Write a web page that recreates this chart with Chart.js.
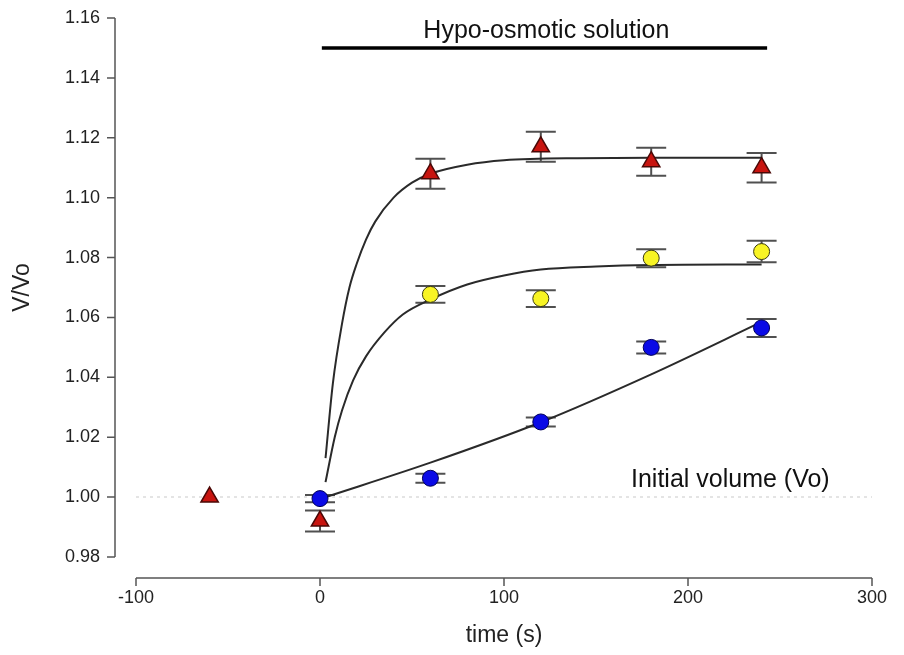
<!DOCTYPE html>
<html>
<head>
<meta charset="utf-8">
<title>V/Vo vs time</title>
<script src="https://cdn.jsdelivr.net/npm/chart.js@4.4.1/dist/chart.umd.min.js"></script>
<style>
  body { margin: 0; background: #fff; }
  .chart-box { width: 904px; height: 655px; }
</style>
</head>
<body>
<div class="chart-box"><canvas id="volChart"></canvas></div>
<script>
// Axis ticks
const xTicks = [-100, 0, 100, 200, 300];
const yTicks = [0.98, 1.00, 1.02, 1.04, 1.06, 1.08, 1.10, 1.12, 1.14, 1.16];

// Red triangles (measured), with SEM
const redTimes = [-60, 0, 60, 120, 180, 240];
const redVals = [1.000, 0.992, 1.108, 1.117, 1.112, 1.110];
const redErr = [0, 0.0035, 0.005, 0.005, 0.0047, 0.0049];

// Yellow circles
const yellowTimes = [60, 120, 180, 240];
const yellowVals = [1.0677, 1.0663, 1.0798, 1.082];
const yellowErr = [0.0028, 0.0028, 0.003, 0.0036];

// Blue circles
const blueTimes = [0, 60, 120, 180, 240];
const blueVals = [0.9995, 1.0063, 1.0251, 1.050, 1.0565];
const blueErr = [0.0012, 0.0015, 0.0015, 0.002, 0.003];

// Fitted curves
const redFitT = [3, 7, 12, 16, 20, 25, 30, 40, 50, 60, 80, 100, 140, 180, 240];
const redFitV = [1.013, 1.038, 1.058, 1.070, 1.078, 1.086, 1.092, 1.100, 1.105, 1.108, 1.111, 1.1125, 1.1132, 1.1133, 1.1133];
const yellowFitT = [3, 8, 12, 18, 25, 35, 45, 60, 80, 100, 120, 150, 180, 240];
const yellowFitV = [1.005, 1.020, 1.029, 1.039, 1.047, 1.055, 1.061, 1.066, 1.071, 1.074, 1.076, 1.077, 1.0775, 1.0777];
const blueFitT = [2, 60, 120, 180, 240];
const blueFitV = [0.9998, 1.0115, 1.025, 1.041, 1.0585];

// Hypo-osmotic period bar and baseline
const hypoT = [1, 243];
const hypoLevel = 1.15;
const baseT = [-100, 300];
const baseLevel = 1.00;

const toXY = (ts, vs) => ts.map((t, i) => ({ x: t, y: vs[i] }));

Chart.defaults.font.family = '"Liberation Sans", Arial, sans-serif';
Chart.defaults.color = '#222';

// Error bars drawn underneath the markers
const errorBars = {
    id: 'errorBars',
    beforeDatasetsDraw(chart) {
        const { ctx, scales: { x, y } } = chart;
        ctx.save();
        ctx.strokeStyle = '#505050';
        ctx.lineWidth = 2;
        chart.data.datasets.forEach(ds => {
            if (!ds.errors) return;
            ds.data.forEach((p, i) => {
                const e = ds.errors[i];
                if (!e) return;
                const px = x.getPixelForValue(p.x);
                const top = y.getPixelForValue(p.y + e);
                const bot = y.getPixelForValue(p.y - e);
                ctx.beginPath();
                ctx.moveTo(px, top); ctx.lineTo(px, bot);
                ctx.moveTo(px - 15, top); ctx.lineTo(px + 15, top);
                ctx.moveTo(px - 15, bot); ctx.lineTo(px + 15, bot);
                ctx.stroke();
            });
        });
        ctx.restore();
    }
};

// Detached axis lines (SigmaPlot style)
const offsetAxes = {
    id: 'offsetAxes',
    afterDraw(chart) {
        const { ctx, chartArea, scales: { x, y } } = chart;
        const ax = chartArea.left - 21;
        const ay = chartArea.bottom + 21;
        ctx.save();
        ctx.strokeStyle = '#555';
        ctx.lineWidth = 1.5;
        ctx.beginPath();
        ctx.moveTo(ax, y.getPixelForValue(yTicks[yTicks.length - 1]));
        ctx.lineTo(ax, y.getPixelForValue(yTicks[0]));
        yTicks.forEach(v => {
            const py = y.getPixelForValue(v);
            ctx.moveTo(ax - 8, py); ctx.lineTo(ax, py);
        });
        ctx.moveTo(x.getPixelForValue(xTicks[0]), ay);
        ctx.lineTo(x.getPixelForValue(xTicks[xTicks.length - 1]), ay);
        xTicks.forEach(v => {
            const px = x.getPixelForValue(v);
            ctx.moveTo(px, ay); ctx.lineTo(px, ay + 8);
        });
        ctx.stroke();
        ctx.restore();
    }
};

// Text annotations
const labels = {
    id: 'labels',
    afterDatasetsDraw(chart) {
        const { ctx, scales: { x, y } } = chart;
        ctx.save();
        ctx.fillStyle = '#111';
        ctx.font = '25px "Liberation Sans", Arial, sans-serif';
        ctx.textAlign = 'center';
        ctx.textBaseline = 'middle';
        ctx.fillText('Hypo-osmotic solution', x.getPixelForValue(123), y.getPixelForValue(1.1557));
        ctx.fillText('Initial volume (Vo)', x.getPixelForValue(223), y.getPixelForValue(1.0057));
        ctx.restore();
    }
};

const ctx = document.getElementById('volChart').getContext('2d');
const volChart = new Chart(ctx, {
    type: 'scatter',
    data: {
        datasets: [
            {
                data: toXY(baseT, [baseLevel, baseLevel]),
                showLine: true,
                pointRadius: 0,
                borderColor: '#dcdcdc',
                borderWidth: 1.5,
                borderDash: [3, 4],
                order: 20
            },
            {
                data: toXY(hypoT, [hypoLevel, hypoLevel]),
                showLine: true,
                pointRadius: 0,
                borderColor: '#000',
                borderWidth: 3.5,
                order: 10
            },
            {
                data: toXY(redFitT, redFitV),
                showLine: true,
                pointRadius: 0,
                borderColor: '#2a2a2a',
                borderWidth: 2,
                cubicInterpolationMode: 'monotone',
                order: 10
            },
            {
                data: toXY(yellowFitT, yellowFitV),
                showLine: true,
                pointRadius: 0,
                borderColor: '#2a2a2a',
                borderWidth: 2,
                cubicInterpolationMode: 'monotone',
                order: 10
            },
            {
                data: toXY(blueFitT, blueFitV),
                showLine: true,
                pointRadius: 0,
                borderColor: '#2a2a2a',
                borderWidth: 2,
                cubicInterpolationMode: 'monotone',
                order: 10
            },
            {
                data: toXY(blueTimes, blueVals),
                errors: blueErr,
                pointStyle: 'circle',
                pointRadius: 8,
                backgroundColor: '#0a0ae6',
                borderColor: '#00005a',
                borderWidth: 1,
                order: 3
            },
            {
                data: toXY(yellowTimes, yellowVals),
                errors: yellowErr,
                pointStyle: 'circle',
                pointRadius: 8,
                backgroundColor: '#f8f424',
                borderColor: '#3a3a10',
                borderWidth: 1,
                order: 2
            },
            {
                data: toXY(redTimes, redVals),
                errors: redErr,
                pointStyle: 'triangle',
                pointRadius: 10,
                backgroundColor: '#c8140f',
                borderColor: '#4a0806',
                borderWidth: 1.5,
                order: 1
            }
        ]
    },
    options: {
        responsive: true,
        maintainAspectRatio: false,
        animation: false,
        layout: { padding: { top: 18, right: 32, left: 0, bottom: 0 } },
        plugins: {
            legend: { display: false },
            tooltip: { enabled: false }
        },
        scales: {
            x: {
                type: 'linear',
                min: xTicks[0],
                max: xTicks[xTicks.length - 1],
                afterFit: scale => { scale.height = 98; },
                // tickLength only offsets the labels; the axis itself is drawn by offsetAxes
                grid: { display: false, drawTicks: true, tickLength: 30 },
                border: { display: false },
                ticks: { stepSize: 100, padding: 0, font: { size: 18 }, color: '#222' },
                title: { display: true, text: 'time (s)', font: { size: 23 }, color: '#222', padding: { top: 0, bottom: 6 } }
            },
            y: {
                type: 'linear',
                min: yTicks[0],
                max: yTicks[yTicks.length - 1],
                afterFit: scale => { scale.width = 136; },
                grid: { display: false, drawTicks: true, tickLength: 36 },
                border: { display: false },
                ticks: {
                    stepSize: 0.02,
                    padding: 0,
                    font: { size: 18 },
                    color: '#222',
                    callback: v => v.toFixed(2)
                },
                title: { display: true, text: 'V/Vo', font: { size: 23 }, color: '#222', padding: { top: 9, bottom: 0 } }
            }
        }
    },
    plugins: [errorBars, offsetAxes, labels]
});
</script>
</body>
</html>
